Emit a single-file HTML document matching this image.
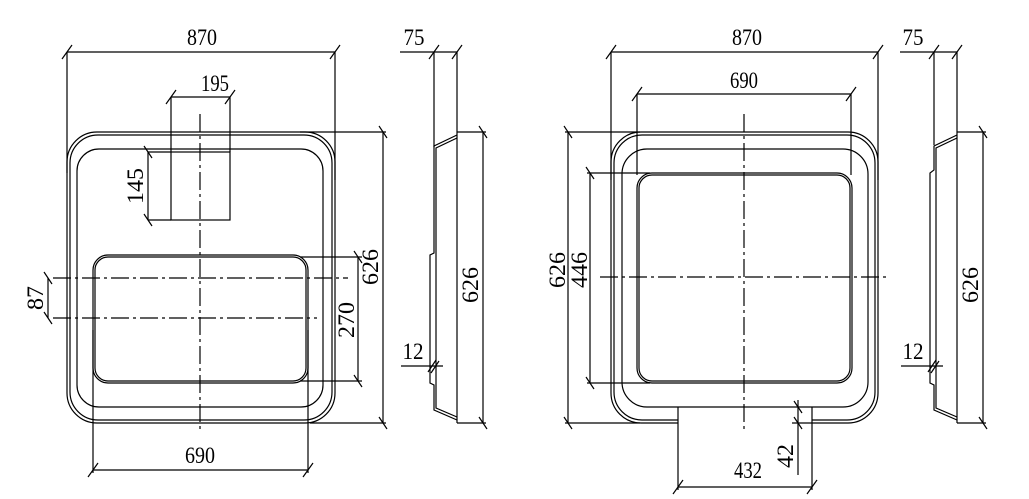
<!DOCTYPE html>
<html><head><meta charset="utf-8"><style>
html,body{margin:0;padding:0;background:#fff;}
svg{display:block;}
text{font-family:"Liberation Serif",serif;font-size:23px;fill:#000;}
</style></head><body>
<svg width="1029" height="499" viewBox="0 0 1029 499" xmlns="http://www.w3.org/2000/svg">
<g stroke="#000" stroke-width="1.2" fill="none">
<!-- ===== LEFT VIEW ===== -->
<rect x="67" y="132" width="268" height="291" rx="30"/>
<rect x="70" y="135" width="262" height="285" rx="28"/>
<rect x="77" y="149" width="246" height="258" rx="22"/>
<rect x="93" y="255" width="215" height="128" rx="15"/>
<rect x="95" y="257" width="211" height="124" rx="13"/>
<rect x="171" y="152" width="59" height="68"/>
<line x1="200" y1="114" x2="200" y2="432" stroke-dasharray="18,4,3,4"/>
<line x1="53" y1="278" x2="348" y2="278" stroke-dasharray="18,4,3,4"/>
<line x1="53" y1="318" x2="317" y2="318" stroke-dasharray="18,4,3,4"/>
<line x1="67" y1="52" x2="335" y2="52"/>
<line x1="67" y1="52" x2="67" y2="173"/>
<line x1="335" y1="52" x2="335" y2="180"/>
<line x1="62" y1="59" x2="72" y2="45"/><line x1="330" y1="59" x2="340" y2="45"/>
<line x1="171" y1="97" x2="230" y2="97"/>
<line x1="171" y1="97" x2="171" y2="152"/><line x1="230" y1="97" x2="230" y2="152"/>
<line x1="166" y1="104" x2="176" y2="90"/><line x1="225" y1="104" x2="235" y2="90"/>
<line x1="148" y1="152" x2="171" y2="152"/><line x1="148" y1="220" x2="171" y2="220"/>
<line x1="148" y1="152" x2="148" y2="220"/>
<line x1="144" y1="146" x2="152" y2="158"/><line x1="144" y1="214" x2="152" y2="226"/>
<line x1="48" y1="278" x2="48" y2="318"/>
<line x1="44" y1="272" x2="52" y2="284"/><line x1="44" y1="312" x2="52" y2="324"/>
<line x1="300" y1="257" x2="362" y2="257"/><line x1="300" y1="381" x2="362" y2="381"/>
<line x1="358" y1="257" x2="358" y2="381"/>
<line x1="354" y1="251" x2="362" y2="263"/><line x1="354" y1="375" x2="362" y2="387"/>
<line x1="300" y1="132" x2="386" y2="132"/><line x1="310" y1="423" x2="386" y2="423"/>
<line x1="383" y1="132" x2="383" y2="423"/>
<line x1="379" y1="126" x2="387" y2="138"/><line x1="379" y1="417" x2="387" y2="429"/>
<line x1="93" y1="330" x2="93" y2="473"/><line x1="308" y1="330" x2="308" y2="473"/>
<line x1="93" y1="470" x2="308" y2="470"/>
<line x1="88" y1="477" x2="98" y2="463"/><line x1="303" y1="477" x2="313" y2="463"/>
<line x1="434" y1="52" x2="434" y2="147"/>
<line x1="457" y1="52" x2="457" y2="423"/>
<line x1="400" y1="52" x2="457" y2="52"/>
<line x1="429" y1="59" x2="439" y2="45"/><line x1="452" y1="59" x2="462" y2="45"/>
<path d="M457 135 L434 146 L434 253 L430 255 L430 383 L434 385 L434 410 L457 420"/>
<path d="M457 138 L436 148 L436 408 L457 417"/>
<line x1="457" y1="132" x2="486" y2="132"/><line x1="457" y1="423" x2="486" y2="423"/>
<line x1="483" y1="132" x2="483" y2="423"/>
<line x1="479" y1="126" x2="487" y2="138"/><line x1="479" y1="417" x2="487" y2="429"/>
<line x1="401" y1="366" x2="443" y2="366"/>
<line x1="428" y1="372" x2="436" y2="360"/><line x1="431" y1="373" x2="439" y2="361"/>

<!-- ===== RIGHT VIEW ===== -->
<path d="M678 423 L641 423 A30 30 0 0 1 611 393 L611 162 A30 30 0 0 1 641 132 L848 132 A30 30 0 0 1 878 162 L878 393 A30 30 0 0 1 848 423 L812 423"/>
<path d="M678 420 L642 420 A28 28 0 0 1 614 392 L614 163 A28 28 0 0 1 642 135 L847 135 A28 28 0 0 1 875 163 L875 392 A28 28 0 0 1 847 420 L812 420"/>
<rect x="622" y="149" width="246" height="258" rx="25"/>
<rect x="637" y="173" width="215" height="210" rx="15"/>
<rect x="639" y="175" width="211" height="206" rx="13"/>
<line x1="678" y1="407" x2="678" y2="490"/><line x1="812" y1="407" x2="812" y2="490"/>
<line x1="744" y1="114" x2="744" y2="432" stroke-dasharray="18,4,3,4"/>
<line x1="600" y1="277" x2="888" y2="277" stroke-dasharray="18,4,3,4"/>
<line x1="611" y1="52" x2="878" y2="52"/>
<line x1="611" y1="52" x2="611" y2="180"/><line x1="878" y1="52" x2="878" y2="180"/>
<line x1="606" y1="59" x2="616" y2="45"/><line x1="873" y1="59" x2="883" y2="45"/>
<line x1="637" y1="94" x2="851" y2="94"/>
<line x1="637" y1="94" x2="637" y2="175"/><line x1="851" y1="94" x2="851" y2="175"/>
<line x1="632" y1="101" x2="642" y2="87"/><line x1="846" y1="101" x2="856" y2="87"/>
<line x1="565" y1="132" x2="640" y2="132"/><line x1="565" y1="423" x2="640" y2="423"/>
<line x1="568" y1="132" x2="568" y2="423"/>
<line x1="564" y1="126" x2="572" y2="138"/><line x1="564" y1="417" x2="572" y2="429"/>
<line x1="587" y1="173" x2="650" y2="173"/><line x1="587" y1="383" x2="650" y2="383"/>
<line x1="590" y1="173" x2="590" y2="383"/>
<line x1="586" y1="167" x2="594" y2="179"/><line x1="586" y1="377" x2="594" y2="389"/>
<line x1="678" y1="487" x2="812" y2="487"/>
<line x1="673" y1="494" x2="683" y2="480"/><line x1="807" y1="494" x2="817" y2="480"/>
<line x1="798" y1="400" x2="798" y2="475"/>
<line x1="794" y1="401" x2="802" y2="413"/><line x1="794" y1="417" x2="802" y2="429"/>
<line x1="792" y1="423" x2="812" y2="423"/>
<line x1="934" y1="52" x2="934" y2="145"/>
<line x1="957" y1="52" x2="957" y2="423"/>
<line x1="900" y1="52" x2="957" y2="52"/>
<line x1="929" y1="59" x2="939" y2="45"/><line x1="952" y1="59" x2="962" y2="45"/>
<path d="M957 135 L934 146 L934 170 L930 173 L930 383 L934 385 L934 410 L957 420"/>
<path d="M957 138 L936 148 L936 408 L957 417"/>
<line x1="957" y1="132" x2="986" y2="132"/><line x1="957" y1="423" x2="986" y2="423"/>
<line x1="983" y1="132" x2="983" y2="423"/>
<line x1="979" y1="126" x2="987" y2="138"/><line x1="979" y1="417" x2="987" y2="429"/>
<line x1="901" y1="366" x2="943" y2="366"/>
<line x1="928" y1="372" x2="936" y2="360"/><line x1="931" y1="373" x2="939" y2="361"/>
</g>
<g text-anchor="middle" lengthAdjust="spacingAndGlyphs">
<text x="202" y="45" textLength="30" lengthAdjust="spacingAndGlyphs">870</text>
<text x="215" y="91" textLength="28" lengthAdjust="spacingAndGlyphs">195</text>
<text x="200" y="463" textLength="30" lengthAdjust="spacingAndGlyphs">690</text>
<text x="414" y="45" textLength="21" lengthAdjust="spacingAndGlyphs">75</text>
<text x="413" y="359" textLength="21" lengthAdjust="spacingAndGlyphs">12</text>
<text transform="translate(143,186) rotate(-90)" textLength="36" lengthAdjust="spacingAndGlyphs">145</text>
<text transform="translate(43,298) rotate(-90)" textLength="24" lengthAdjust="spacingAndGlyphs">87</text>
<text transform="translate(354,320) rotate(-90)" textLength="36" lengthAdjust="spacingAndGlyphs">270</text>
<text transform="translate(378,267) rotate(-90)" textLength="36" lengthAdjust="spacingAndGlyphs">626</text>
<text transform="translate(478,285) rotate(-90)" textLength="36" lengthAdjust="spacingAndGlyphs">626</text>
<text x="747" y="45" textLength="30" lengthAdjust="spacingAndGlyphs">870</text>
<text x="744" y="88" textLength="28" lengthAdjust="spacingAndGlyphs">690</text>
<text x="748" y="478" textLength="28" lengthAdjust="spacingAndGlyphs">432</text>
<text x="913" y="45" textLength="21" lengthAdjust="spacingAndGlyphs">75</text>
<text x="913" y="359" textLength="21" lengthAdjust="spacingAndGlyphs">12</text>
<text transform="translate(565,270) rotate(-90)" textLength="36" lengthAdjust="spacingAndGlyphs">626</text>
<text transform="translate(587,270) rotate(-90)" textLength="36" lengthAdjust="spacingAndGlyphs">446</text>
<text transform="translate(793,456) rotate(-90)" textLength="24" lengthAdjust="spacingAndGlyphs">42</text>
<text transform="translate(978,285) rotate(-90)" textLength="36" lengthAdjust="spacingAndGlyphs">626</text>
</g>
</svg>
</body></html>
